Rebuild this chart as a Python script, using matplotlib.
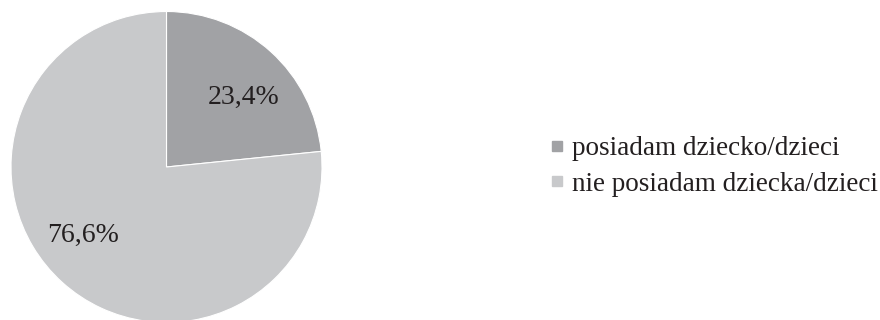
import matplotlib
matplotlib.use("Agg")
import matplotlib.pyplot as plt
from matplotlib.lines import Line2D
import numpy as np

categories = ["posiadam dziecko/dzieci", "nie posiadam dziecka/dzieci"]
values = [23.4, 76.6]
colors = ["#a1a2a5", "#c8c9cb"]
text_color = "#231f20"

plt.rcParams['font.family'] = ['Liberation Serif', 'DejaVu Serif']

W, H = 880, 320
fig = plt.figure(figsize=(W / 100, H / 100), dpi=100)
fig.patch.set_facecolor("white")

cx, cy, r = 166.5, 167.0, 155.5
ax = fig.add_axes([(cx - r) / W, (H - cy - r) / H, 2 * r / W, 2 * r / H])
ax.axis("off")

wedges, texts, autotexts = ax.pie(
    values, colors=colors, startangle=90, counterclock=False,
    autopct=lambda p: f"{p:.1f}%".replace(".", ","), pctdistance=0.68,
    wedgeprops=dict(edgecolor="white", linewidth=0.8),
    textprops=dict(fontsize=20, color=text_color),
)
ax.set_xlim(-1, 1)
ax.set_ylim(-1, 1)
ax.set_aspect("equal", adjustable="box")

# Excel-like label placement (angle in degrees, radius fraction)
label_pos = [(42.0, 0.67), (219.6, 0.695)]
for t, (ang, rad) in zip(autotexts, label_pos):
    a = np.deg2rad(ang)
    t.set_position((rad * np.cos(a), rad * np.sin(a)))
    t.set_ha("center")
    t.set_va("center")

handles = [Line2D([0], [0], marker="s", linestyle="none", markersize=7,
                  markerfacecolor=c, markeredgecolor=c) for c in colors]
fig.legend(handles, categories, loc="center left",
           bbox_to_anchor=(552 / W, 1 - 166.5 / H), frameon=False,
           borderpad=0, borderaxespad=0, handlelength=0.4,
           handletextpad=0.34, labelspacing=0.38,
           prop=dict(family=['Liberation Serif'], size=19.5),
           labelcolor=text_color)

fig.savefig("out.png", dpi=100, facecolor="white")
